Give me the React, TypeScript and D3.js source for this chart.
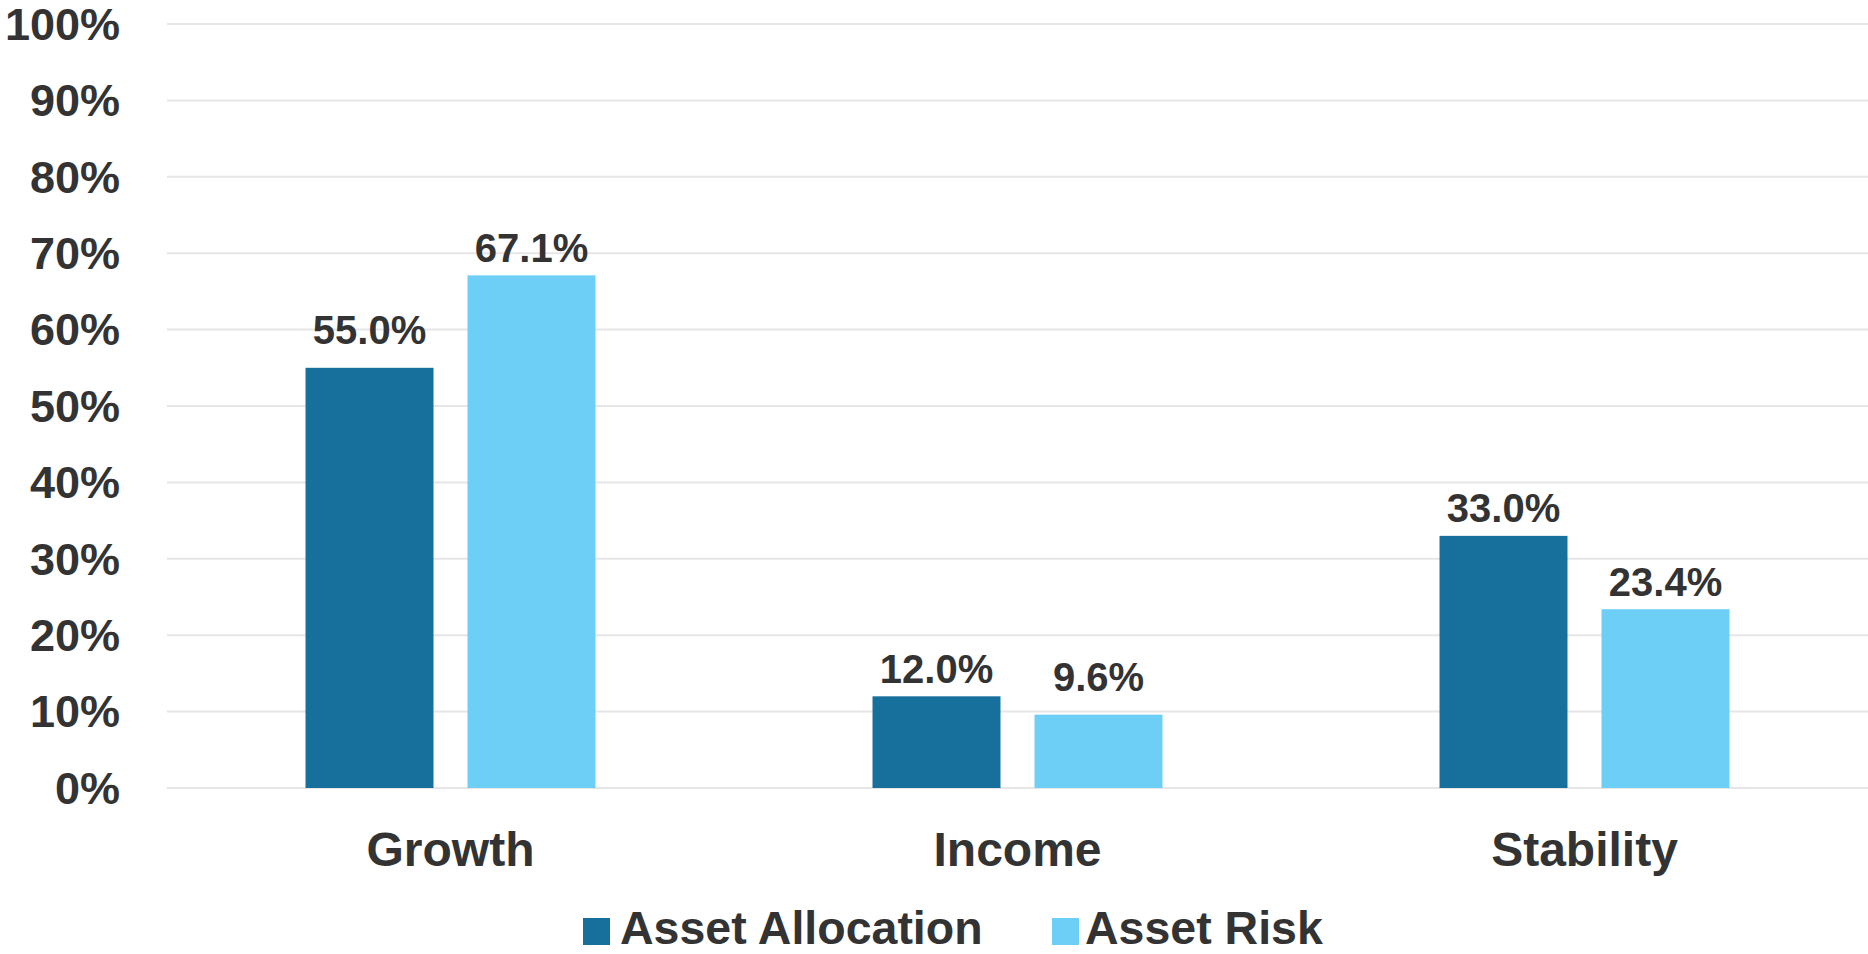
import React from "react";
import * as d3 from "d3";

const categories = ["Growth", "Income", "Stability"];
const seriesNames = ["Asset Allocation", "Asset Risk"];
const assetAllocation = [55.0, 12.0, 33.0];
const assetRisk = [67.1, 9.6, 23.4];
const yTicks = [0, 10, 20, 30, 40, 50, 60, 70, 80, 90, 100];

// gap between bar top and label baseline, per series / category (layout only)
const labelGap = [
    [24, 13, 14],
    [13, 24, 13],
];

const WIDTH = 1868;
const HEIGHT = 954;
const COLORS = ["#176f9c", "#6dcff6"];
const TEXT = "#333333";
const FONT = "'Liberation Sans', Arial, sans-serif";

export default function App() {
    const margin = { top: 24, right: 0, bottom: 166, left: 167 };

    const x0 = d3.scaleBand<string>()
        .domain(categories)
        .range([margin.left, WIDTH - margin.right])
        .paddingInner(0)
        .paddingOuter(0);

    const x1 = d3.scaleBand<string>()
        .domain(seriesNames)
        .range([0, x0.bandwidth()])
        .paddingInner(0.21)
        .paddingOuter(0.855);

    const y = d3.scaleLinear([0, 100], [HEIGHT - margin.bottom, margin.top]);

    const values = [assetAllocation, assetRisk];

    // legend layout
    const legendY = 918;
    const legendItems = [
        { name: seriesNames[0], x: 583, textX: 620, color: COLORS[0] },
        { name: seriesNames[1], x: 1052, textX: 1085, color: COLORS[1] },
    ];

    return <svg width={WIDTH} height={HEIGHT}
        style={{ position: "absolute", left: 0, top: 0, background: "#fff" }}
        fontFamily={FONT} fontWeight="bold" fill={TEXT}>

        <g name="grid">
            {yTicks.map((t) => (
                <line key={t} x1={margin.left} x2={WIDTH - margin.right}
                    y1={y(t)} y2={y(t)} stroke="#e6e6e6" strokeWidth={2} />
            ))}
        </g>

        <g name="yLabels">
            {yTicks.map((t) => (
                <text key={t} x={120} y={y(t)} dy="0.35em" textAnchor="end"
                    fontSize={45} fill={TEXT}>{t}%</text>
            ))}
        </g>

        <g name="bars">
            {categories.map((c, ci) => (
                <g key={c} transform={`translate(${x0(c)},0)`}>
                    {seriesNames.map((s, si) => {
                        const v = values[si][ci];
                        const bx = x1(s)!;
                        return <g key={s}>
                            <rect x={bx} y={y(v)} width={x1.bandwidth()}
                                height={y(0) - y(v)} fill={COLORS[si]} />
                            <text x={bx + x1.bandwidth() / 2} y={y(v) - labelGap[si][ci]}
                                textAnchor="middle" fontSize={40} fill={TEXT}>
                                {v.toFixed(1)}%
                            </text>
                        </g>;
                    })}
                </g>
            ))}
        </g>

        <g name="xLabels">
            {categories.map((c) => (
                <text key={c} x={x0(c)! + x0.bandwidth() / 2} y={866}
                    textAnchor="middle" fontSize={48} fill={TEXT}>{c}</text>
            ))}
        </g>

        <g name="legend">
            {legendItems.map((d) => (
                <g key={d.name}>
                    <rect x={d.x} y={legendY} width={27} height={27} fill={d.color} />
                    <text x={d.textX} y={legendY + 26} fontSize={46.5} fill={TEXT}>{d.name}</text>
                </g>
            ))}
        </g>
    </svg>;
}
